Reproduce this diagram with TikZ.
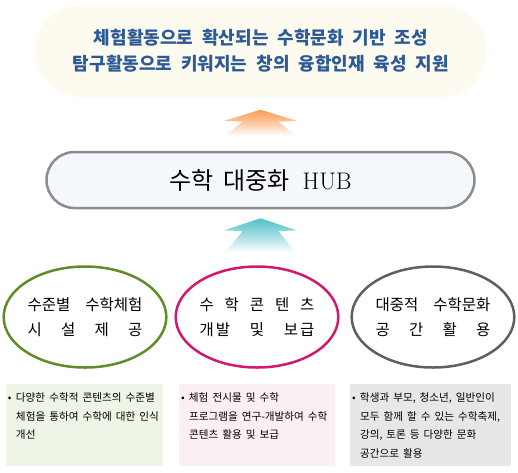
\documentclass[tikz,border=0pt]{standalone}
\usepackage{fontspec}
\newfontfamily\cjk{Noto Sans CJK KR}
\definecolor{GoalCream}{RGB}{253,250,240}
\definecolor{GoalBlue}{RGB}{44,90,150}
\definecolor{HubGray}{RGB}{140,140,140}
\definecolor{HubFill}{RGB}{244,247,252}
\definecolor{AreaGreen}{RGB}{95,140,40}
\definecolor{AreaPink}{RGB}{210,25,110}
\definecolor{AreaGray}{RGB}{95,95,95}
\definecolor{PanelGreen}{RGB}{238,245,230}
\definecolor{PanelPink}{RGB}{251,239,246}
\definecolor{PanelGray}{RGB}{231,231,231}
\definecolor{ArrowOrange}{RGB}{250,155,80}
\definecolor{ArrowCyan}{RGB}{85,192,203}
\newcommand{\spreadline}[1]{\makebox[115pt][s]{#1}}
\newcommand{\goalfont}{\cjk\bfseries\fontsize{18}{26}\selectfont\setlength{\spaceskip}{9pt}}
\newcommand{\notefont}{\cjk\fontsize{10.6}{18.5}\selectfont\setlength{\spaceskip}{4pt}}
\usetikzlibrary{positioning, shapes.geometric, calc}

\begin{document}
\begin{tikzpicture}[x=1pt, y=-1pt,
  goal/.style={rectangle, rounded corners=46pt, fill=GoalCream, minimum width=452pt, minimum height=92pt, text=GoalBlue, align=center, font=\goalfont},
  hub/.style={rectangle, rounded corners=28pt, draw=HubGray, line width=2.5pt, fill=HubFill, minimum width=428pt, minimum height=56pt, font=\fontsize{24}{26}\selectfont},
  area/.style={ellipse, line width=2.5pt, minimum width=142pt, minimum height=101pt, inner sep=0pt, align=center, font=\cjk\fontsize{15.5}{25}\selectfont},
  panel/.style={rectangle, minimum height=82pt},
  note/.style={anchor=north west, inner sep=0pt, align=left, font=\notefont},
  lift/.style={bottom color=white}
]
\useasboundingbox (0,0) rectangle (518,472);

\node[goal] (goal) at (261,51) {체험활동으로 확산되는 수학문화 기반 조성\\탐구활동으로 키워지는 창의 융합인재 육성 지원};
\node[hub] (hub) at (260.5,180) {{\cjk 수학\hspace{10pt}대중화}\hspace{13pt}HUB};

\node[area, draw=AreaGreen] (facility) at (85,317) {\spreadline{수준별\hfill 수학체험}\\\spreadline{시\hfill 설\hfill 제\hfill 공}};
\node[area, draw=AreaPink] (content) at (257,317) {\spreadline{수\hfill 학\hfill 콘\hfill 텐\hfill 츠}\\\spreadline{개\hspace{2pt}발\hfill 및\hfill 보\hspace{2pt}급}};
\node[area, draw=AreaGray] (space) at (433,317) {\spreadline{대중적\hfill 수학문화}\\\spreadline{공\hfill 간\hfill 활\hfill 용}};

% shaded lift arrows
\shade[lift, top color=ArrowOrange, middle color=ArrowOrange!55] ($(hub.north)+(0,-41)$) -- ++(36,11) -- ++(-18,1) -- ++(17,14) -- ++(-70,0) -- ++(17,-14) -- ++(-18,-1) -- cycle;
\shade[lift, top color=ArrowCyan, middle color=ArrowCyan!55] ($(hub.south)+(0,9)$) -- ++(36,12) -- ++(-18,1) -- ++(17,21) -- ++(-70,0) -- ++(17,-21) -- ++(-18,-1) -- cycle;

% description panels
\node[panel, fill=PanelGreen, minimum width=157pt] (noteA) at (84.5,425) {};
\node[panel, fill=PanelPink, minimum width=156pt] (noteB) at (257,425) {};
\node[panel, fill=PanelGray, minimum width=161pt] (noteC) at (430.5,425) {};

\node[note] (txtA) at ([shift={(2,9)}]noteA.north west) {\makebox[8pt][l]{•}다양한 수학적 콘텐츠의 수준별\\\hspace*{8pt}체험을 통하여 수학에 대한 인식\\\hspace*{8pt}개선};
\node[note] (txtB) at ([shift={(2,9)}]noteB.north west) {\makebox[8pt][l]{•}체험 전시물 및 수학\\\hspace*{8pt}프로그램을 연구-개발하여 수학\\\hspace*{8pt}콘텐츠 활용 및 보급};
\node[note] (txtC) at ([shift={(2,9)}]noteC.north west) {\makebox[8pt][l]{•}학생과 부모, 청소년, 일반인이\\\hspace*{8pt}모두 함께 할 수 있는 수학축제,\\\hspace*{8pt}강의, 토론 등 다양한 문화\\\hspace*{8pt}공간으로 활용};

\end{tikzpicture}
\end{document}
